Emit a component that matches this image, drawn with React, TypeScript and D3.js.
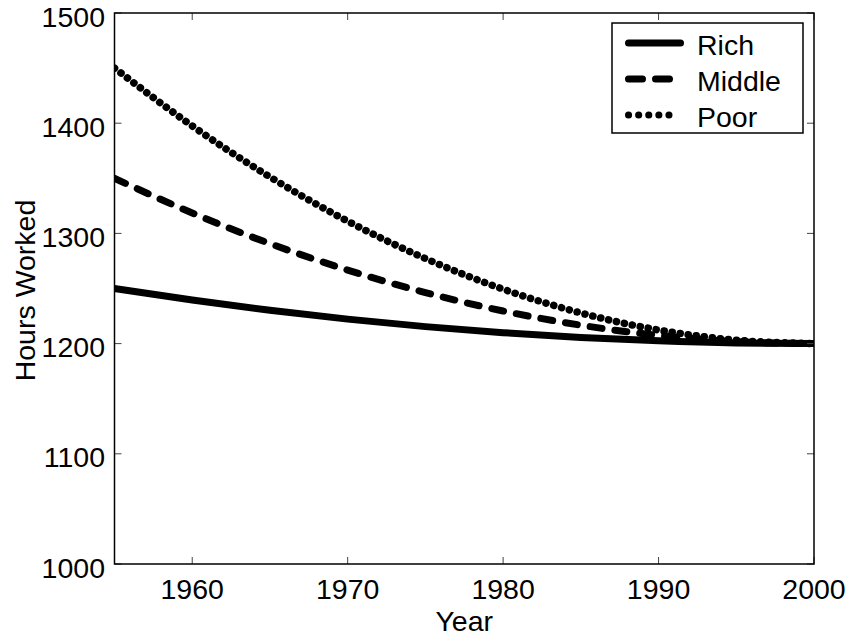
import React from "react";
import * as d3 from "d3";

const years = [1955, 1960, 1965, 1970, 1975, 1980, 1985, 1990, 1995, 2000];
const rich = [1250, 1239.5, 1230.2, 1222.2, 1215.4, 1209.9, 1205.6, 1202.5, 1200.6, 1200];
const middle = [1350, 1318.5, 1290.7, 1266.7, 1246.3, 1229.6, 1216.7, 1207.4, 1201.9, 1200];
const poor = [1450, 1397.5, 1351.2, 1311.1, 1277.2, 1249.4, 1227.8, 1212.3, 1203.1, 1200];
const seriesNames = ["Rich", "Middle", "Poor"];
const xTicks = [1960, 1970, 1980, 1990, 2000];
const yTicks = [1000, 1100, 1200, 1300, 1400, 1500];

const W = 850, H = 643;
const L = 114.5, R = 814, T = 13, B = 564;
const FONT = "Liberation Sans, Arial, sans-serif";
const FS = 28.5;

const plotStyles = [
  { dash: "none", cap: "butt", w: 7 },
  { dash: "12 13", cap: "round", w: 7 },
  { dash: "0.1 8", cap: "round", w: 7.5 },
];
const legendLines = [
  { x1: 628.5, x2: 680.5, dash: "none" },
  { x1: 628.5, x2: 670, dash: "14 13" },
  { x1: 628.5, x2: 679, dash: "0.1 10" },
];

export default function App() {
  const x = d3.scaleLinear().domain([1955, 2000]).range([L, R]);
  const y = d3.scaleLinear().domain([1000, 1500]).range([B, T]);
  const line = d3
    .line<[number, number]>()
    .x((d) => x(d[0]))
    .y((d) => y(d[1]))
    .curve(d3.curveMonotoneX);
  const data = [rich, middle, poor];
  const tl = 7;
  return (
    <svg width={W} height={H} style={{ position: "absolute", left: 0, top: 0, background: "#fff" }}>
      <defs>
        <clipPath id="plot">
          <rect x={L} y={T} width={R - L} height={B - T} />
        </clipPath>
      </defs>
      <rect x={0} y={0} width={W} height={H} fill="#fff" />
      {data.map((vals, i) => (
        <path
          key={i}
          d={line(years.map((yr, j) => [yr, vals[j]] as [number, number])) || ""}
          fill="none"
          stroke="#000"
          strokeWidth={plotStyles[i].w}
          strokeDasharray={plotStyles[i].dash}
          strokeLinecap={plotStyles[i].cap as any}
          clipPath="url(#plot)"
        />
      ))}
      {xTicks.map((t) => (
        <g key={t}>
          <line x1={x(t)} x2={x(t)} y1={B} y2={B - tl} stroke="#444" strokeWidth={1} />
          <line x1={x(t)} x2={x(t)} y1={T} y2={T + tl} stroke="#444" strokeWidth={1} />
          <text x={x(t)} y={599} textAnchor="middle" fontFamily={FONT} fontSize={FS} fill="#000">
            {t}
          </text>
        </g>
      ))}
      {yTicks.map((t) => (
        <g key={t}>
          <line x1={L} x2={L + tl} y1={y(t)} y2={y(t)} stroke="#444" strokeWidth={1} />
          <line x1={R} x2={R - tl} y1={y(t)} y2={y(t)} stroke="#444" strokeWidth={1} />
          <text x={105} y={y(t) + 13.5} textAnchor="end" fontFamily={FONT} fontSize={FS} fill="#000">
            {t}
          </text>
        </g>
      ))}
      <rect x={L} y={T} width={R - L} height={B - T} fill="none" stroke="#000" strokeWidth={1.5} />
      <text x={(L + R) / 2} y={631} textAnchor="middle" fontFamily={FONT} fontSize={FS} fill="#000">
        Year
      </text>
      <text
        transform={`translate(35, ${(T + B) / 2 + 2}) rotate(-90)`}
        textAnchor="middle"
        fontFamily={FONT}
        fontSize={FS}
        fill="#000"
      >
        Hours Worked
      </text>
      <g>
        <rect x={612} y={23} width={191} height={110} fill="#fff" stroke="#000" strokeWidth={1.5} />
        {seriesNames.map((name, i) => {
          const ry = 43 + i * 36;
          const ll = legendLines[i];
          return (
            <g key={name}>
              <line
                x1={ll.x1}
                x2={ll.x2}
                y1={ry}
                y2={ry}
                stroke="#000"
                strokeWidth={7}
                strokeDasharray={ll.dash}
                strokeLinecap="round"
              />
              <text x={697} y={ry + 12} fontFamily={FONT} fontSize={FS} fill="#000">
                {name}
              </text>
            </g>
          );
        })}
      </g>
    </svg>
  );
}
